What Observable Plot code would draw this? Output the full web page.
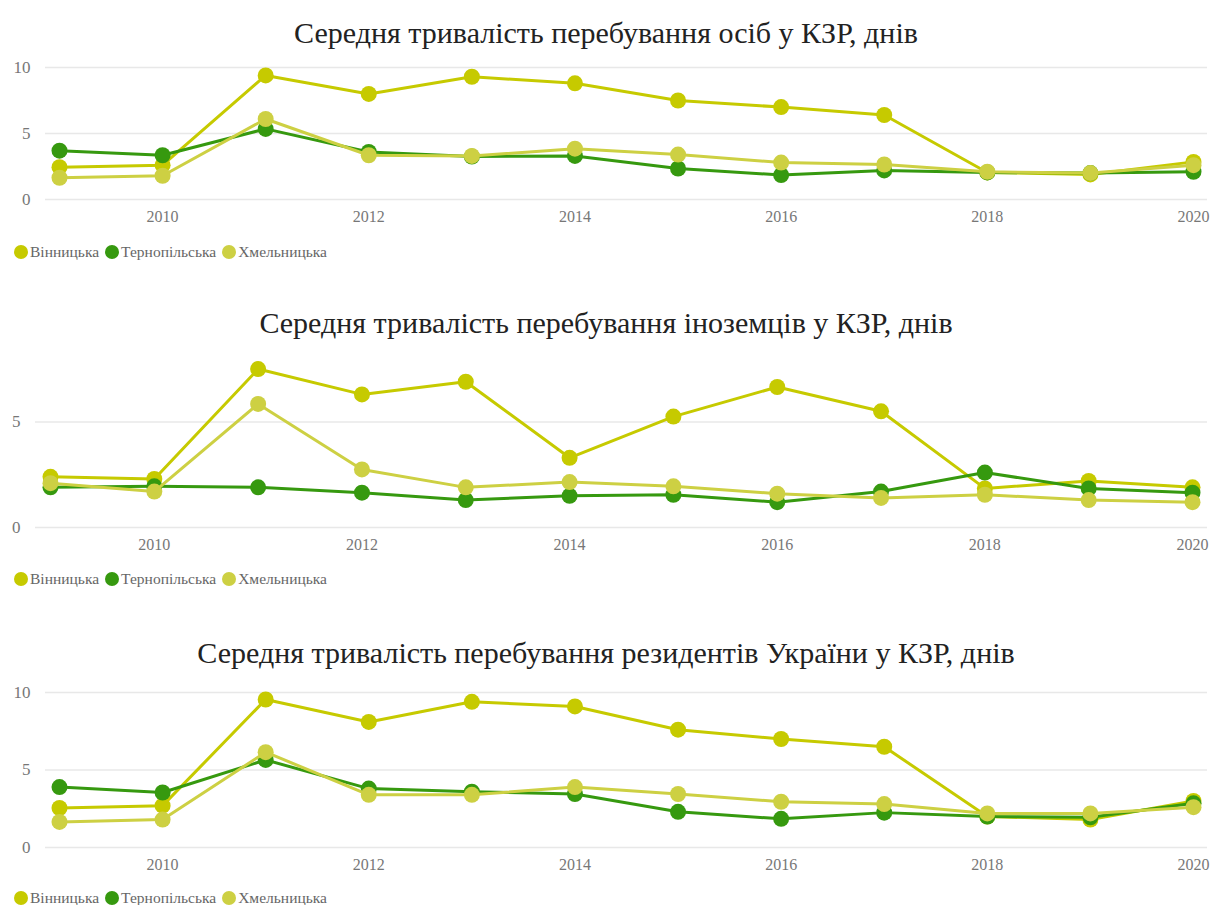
<!DOCTYPE html>
<html><head><meta charset="utf-8">
<script src="https://cdn.jsdelivr.net/npm/d3@7"></script>
<script src="https://cdn.jsdelivr.net/npm/@observablehq/plot@0.6"></script>
<style>
html,body{margin:0;padding:0;overflow:hidden;background:#fff;width:1212px;height:905px}
body{font-family:"Liberation Serif","DejaVu Serif",serif}
.title{text-align:center;font-size:30px;color:#222;height:35px;line-height:35px;white-space:nowrap}
.legend{height:30px;line-height:30px;font-size:15.5px;color:#666;padding-left:14px;white-space:nowrap;position:relative;top:2px}
.legend .sw{display:inline-block;width:14px;height:14px;border-radius:50%;vertical-align:-2px;margin-right:2px}
.legend .item{margin-right:6px}
svg{display:block}
</style></head><body><div id="root"></div>
<script>
const years = [2009,2010,2011,2012,2013,2014,2015,2016,2017,2018,2019,2020];
const regions = ["Вінницька","Тернопільська","Хмельницька"];
const colors = ["#c6ca00","#36990f","#cdd043"];
const titles = [
  "Середня тривалість перебування осіб у КЗР, днів",
  "Середня тривалість перебування іноземців у КЗР, днів",
  "Середня тривалість перебування резидентів України у КЗР, днів"
];
const xTicks = [2010,2012,2014,2016,2018,2020];
const yTicks1 = [0,5,10];
const yTicks2 = [0,5];
const yTicks3 = [0,5,10];

// Panel 1: all persons
const p1Vinnytska   = [2.45,2.6,9.4,8.0,9.3,8.8,7.5,7.0,6.4,2.05,1.9,2.85];
const p1Ternopilska = [3.7,3.35,5.35,3.6,3.25,3.3,2.35,1.85,2.2,2.05,2.0,2.1];
const p1Khmelnytska = [1.65,1.8,6.1,3.35,3.3,3.85,3.4,2.8,2.65,2.1,2.0,2.6];
// Panel 2: foreigners
const p2Vinnytska   = [2.4,2.3,7.5,6.3,6.9,3.3,5.25,6.65,5.5,1.85,2.2,1.9];
const p2Ternopilska = [1.9,1.95,1.9,1.65,1.3,1.5,1.55,1.2,1.7,2.6,1.85,1.65];
const p2Khmelnytska = [2.1,1.7,5.85,2.75,1.9,2.15,1.95,1.6,1.4,1.55,1.3,1.2];
// Panel 3: residents of Ukraine
const p3Vinnytska   = [2.55,2.7,9.55,8.1,9.4,9.1,7.6,7.0,6.5,2.0,1.8,3.0];
const p3Ternopilska = [3.9,3.55,5.65,3.8,3.6,3.45,2.3,1.85,2.25,2.0,1.95,2.85];
const p3Khmelnytska = [1.65,1.8,6.15,3.4,3.4,3.9,3.45,2.95,2.8,2.2,2.2,2.6];

const panels = [
  {title:titles[0], series:[p1Vinnytska,p1Ternopilska,p1Khmelnytska], yTicks:yTicks1, yMax:10,
   top:15, height:185, mt:17, mb:36, ml:45, inset:14},
  {title:titles[1], series:[p2Vinnytska,p2Ternopilska,p2Khmelnytska], yTicks:yTicks2, yMax:8,
   top:40, height:222, mt:18, mb:35, ml:35, inset:15},
  {title:titles[2], series:[p3Vinnytska,p3Ternopilska,p3Khmelnytska], yTicks:yTicks3, yMax:10,
   top:43, height:211, mt:22, mb:34, ml:45, inset:14}
];

const root = document.getElementById("root");
panels.forEach(cfg => {
  const t = document.createElement("div");
  t.className = "title";
  t.style.marginTop = cfg.top + "px";
  t.textContent = cfg.title;
  root.appendChild(t);

  const marks = [
    Plot.ruleY(cfg.yTicks, {stroke:"#e8e8e8", strokeWidth:1.5}),
    Plot.axisY(cfg.yTicks, {tickSize:0, tickPadding:15, fontSize:17, fill:"#777", label:null}),
    Plot.axisX(xTicks, {tickSize:0, tickPadding:11, fontSize:16, fill:"#777", label:null, tickFormat:d=>String(d)})
  ];
  regions.forEach((r,k) => {
    const d = years.map((y,j) => ({region:r, year:y, value:cfg.series[k][j]}));
    marks.push(Plot.line(d, {x:"year", y:"value", stroke:colors[k], strokeWidth:3}));
    marks.push(Plot.dot(d, {x:"year", y:"value", fill:colors[k], r:8}));
  });
  const svg = Plot.plot({
    width:1212, height:cfg.height,
    marginLeft:cfg.ml, marginRight:5, marginTop:cfg.mt, marginBottom:cfg.mb,
    x:{domain:[2009,2020], inset:cfg.inset},
    y:{domain:[0,cfg.yMax]},
    style:{fontFamily:"'Liberation Serif','DejaVu Serif',serif", background:"transparent", overflow:"visible"},
    marks
  });
  root.appendChild(svg);

  const lg = document.createElement("div");
  lg.className = "legend";
  regions.forEach((r,k) => {
    const it = document.createElement("span");
    it.className = "item";
    const sw = document.createElement("span");
    sw.className = "sw";
    sw.style.background = colors[k];
    it.appendChild(sw);
    it.appendChild(document.createTextNode(r));
    lg.appendChild(it);
  });
  root.appendChild(lg);
});
</script></body></html>
